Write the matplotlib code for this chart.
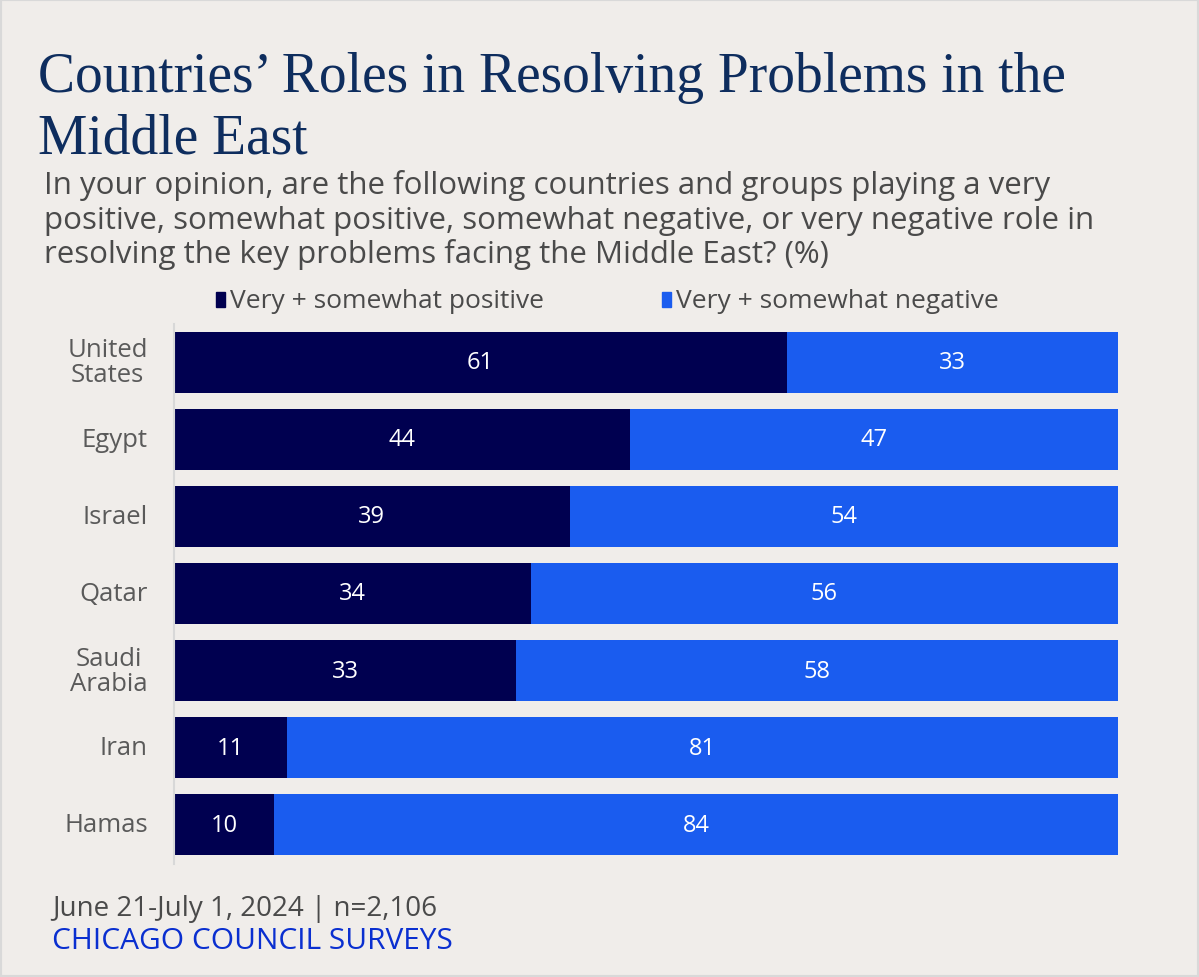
import numpy as np
import matplotlib.pyplot as plt
from matplotlib.patches import Rectangle

countries = ['United\nStates', 'Egypt', 'Israel', 'Qatar', 'Saudi\nArabia', 'Iran', 'Hamas']
positive = [61, 44, 39, 34, 33, 11, 10]
negative = [33, 47, 54, 56, 58, 81, 84]
series_names = ['Very + somewhat positive', 'Very + somewhat negative']

title_lines = ['Countries\u2019 Roles in Resolving Problems in the', 'Middle East']
subtitle_lines = ['In your opinion, are the following countries and groups playing a very',
                  'positive, somewhat positive, somewhat negative, or very negative role in',
                  'resolving the key problems facing the Middle East? (%)']
footer = 'June 21-July 1, 2024 | n=2,106'
source = 'CHICAGO COUNCIL SURVEYS'

BG = '#F0EDEA'
NAVY = '#000050'
BLUE = '#1A5CEF'
GRAY = '#4a4a4a'
SANS = 'Open Sans'

W, H = 1199, 978
fig = plt.figure(figsize=(W / 100, H / 100), dpi=100, facecolor=BG)


def fy(px):
    # pixel row from top -> figure fraction
    return 1 - px / H


# axes placed in pixel terms
left, right, top, bottom = 174, 1118, 324.5, 864.5
ax = fig.add_axes([left / W, 1 - bottom / H, (right - left) / W, (bottom - top) / H])
ax.set_facecolor(BG)

pos = np.array(positive, dtype=float)
neg = np.array(negative, dtype=float)
tot = pos + neg
pos_share = pos / tot * 100
neg_share = neg / tot * 100
y = np.arange(len(countries))

ax.barh(y, pos_share, height=0.79, color=NAVY, edgecolor='none')
ax.barh(y, neg_share, left=pos_share, height=0.79, color=BLUE, edgecolor='none')

for i in range(len(y)):
    ax.text(pos_share[i] / 2, y[i], str(positive[i]), ha='center', va='center',
            color='white', fontsize=17, family=SANS)
    ax.text(pos_share[i] + neg_share[i] / 2, y[i], str(negative[i]), ha='center', va='center',
            color='white', fontsize=17, family=SANS)

ax.set_xlim(0, 100)
ax.set_ylim(len(countries) - 0.5, -0.5)
ax.set_xticks([])
ax.set_yticks([])
for s in ['top', 'right', 'bottom']:
    ax.spines[s].set_visible(False)
ax.spines['left'].set_color('#d8d8d8')
ax.spines['left'].set_linewidth(1.5)

# country labels
for i, c in enumerate(countries):
    ax.text(-26 / (right - left) * 100, y[i], c, ha='right', va='center', multialignment='center',
            color='#5a5a5a', fontsize=18.5, family=SANS, linespacing=1.0)

# legend
for xpx, name, col in [(216, series_names[0], NAVY), (662, series_names[1], BLUE)]:
    fig.patches.append(Rectangle((xpx / W, fy(308)), 9 / W, 15 / H, color=col,
                                 transform=fig.transFigure, figure=fig))
    fig.text((xpx + 14) / W, fy(308), name, ha='left', va='baseline', color=GRAY,
             fontsize=19, family=SANS)

# titles
for base, line in zip([92, 154], title_lines):
    fig.text(38 / W, fy(base), line, ha='left', va='baseline', color='#0E2D5E',
             fontsize=40, family='Liberation Serif')
for base, line in zip([194, 229, 263], subtitle_lines):
    fig.text(44 / W, fy(base), line, ha='left', va='baseline', color=GRAY,
             fontsize=22.5, family=SANS)

# footer
fig.text(52 / W, fy(916), footer, ha='left', va='baseline', color=GRAY,
         fontsize=20, family=SANS)
fig.text(52 / W, fy(949), source, ha='left', va='baseline', color='#0A2FD0',
         fontsize=21.5, family=SANS)

# light frame
fig.patches.append(Rectangle((0, 0), 1, 1, fill=False, edgecolor='#d9d9d9', linewidth=3,
                             transform=fig.transFigure, figure=fig))

fig.savefig('out.png', dpi=100, facecolor=BG)
